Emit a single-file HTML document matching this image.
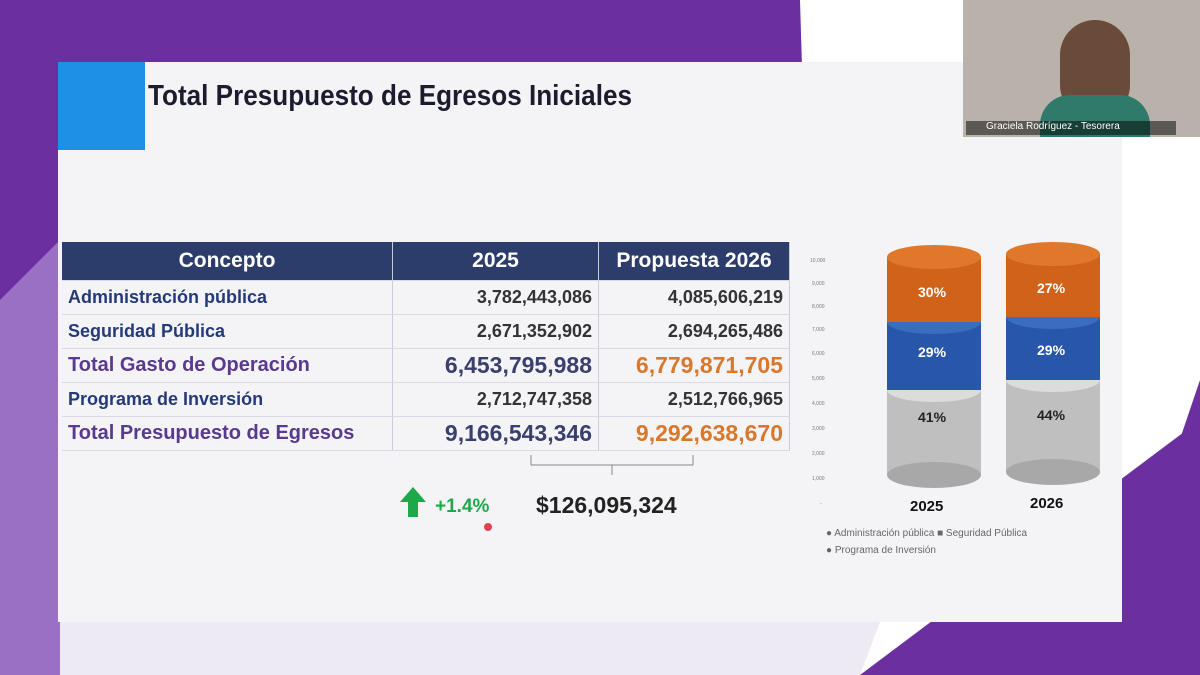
<!DOCTYPE html>
<html><head><meta charset="utf-8"><style>
body{margin:0;width:1200px;height:675px;overflow:hidden;background:#6b2fa0;font-family:"Liberation Sans",sans-serif;position:relative}
.abs{position:absolute}
table{border-collapse:collapse}
td{padding:0 6px;height:33px;border-bottom:1px solid #d8dbe6;border-right:1px solid #c8cbd8;font-weight:bold;color:#253a7a;font-size:18px}
td.n{text-align:right;color:#333;font-size:18px}
tr.big td{font-size:20px;color:#5a3a8e}
tr.big td.n{font-size:23px;color:#3a3f6e}
tr.big td.o{color:#d9782a}
</style></head><body>
<svg class="abs" style="left:0;top:0" width="1200" height="675">
<polygon points="800,0 1200,0 1200,380 1100,675 820,675" fill="#ffffff"/>
<polygon points="0,622 880,622 860,675 0,675" fill="#eeeaf4"/>
<polygon points="0,300 60,240 60,675 0,675" fill="#9a70c4"/>
<polygon points="860,675 1200,420 1200,675" fill="#6b2fa0"/>
</svg>
<div class="abs" style="left:58px;top:62px;width:1064px;height:560px;background:#f4f4f7"></div>
<div class="abs" style="left:58px;top:62px;width:87px;height:88px;background:#1e90e6"></div>
<div class="abs" style="left:148px;top:80px;font-size:29px;font-weight:bold;color:#1c1c2e;transform:scaleX(0.9);transform-origin:left">Total Presupuesto de Egresos Iniciales</div>
<table class="abs" style="left:62px;top:242px;width:728px">
<tr style="background:#2d3d6b"><td style="width:318px;height:38px;color:#fff;text-align:center;font-size:21px">Concepto</td><td style="width:193px;color:#fff;text-align:center;font-size:21px">2025</td><td style="color:#fff;text-align:center;font-size:21px">Propuesta 2026</td></tr>
<tr><td>Administración pública</td><td class="n">3,782,443,086</td><td class="n">4,085,606,219</td></tr>
<tr><td>Seguridad Pública</td><td class="n">2,671,352,902</td><td class="n">2,694,265,486</td></tr>
<tr class="big"><td>Total Gasto de Operación</td><td class="n">6,453,795,988</td><td class="n o">6,779,871,705</td></tr>
<tr><td>Programa de Inversión</td><td class="n">2,712,747,358</td><td class="n">2,512,766,965</td></tr>
<tr class="big"><td>Total Presupuesto de Egresos</td><td class="n">9,166,543,346</td><td class="n o">9,292,638,670</td></tr>
</table>
<svg class="abs" style="left:0;top:0" width="1200" height="675">
<path d="M531 455 v10 h162 v-10 M612 465 v10" stroke="#888" fill="none"/>
<polygon points="413,487 400,502 408,502 408,517 418,517 418,502 426,502" fill="#1fa84a"/>
<text x="435" y="512" font-size="19" font-weight="bold" fill="#1fa84a" font-family="Liberation Sans">+1.4%</text>
<circle cx="488" cy="527" r="4" fill="#e04050"/>
<text x="536" y="513" font-size="23" font-weight="bold" fill="#222" font-family="Liberation Sans">$126,095,324</text>
<g font-size="5" fill="#777" font-family="Liberation Sans">
<text x="810" y="262">10,000</text><text x="812" y="285">9,000</text><text x="812" y="308">8,000</text><text x="812" y="331">7,000</text><text x="812" y="355">6,000</text><text x="812" y="380">5,000</text><text x="812" y="405">4,000</text><text x="812" y="430">3,000</text><text x="812" y="455">2,000</text><text x="812" y="480">1,000</text><text x="820" y="505">-</text></g>
<g font-family="Liberation Sans" font-weight="bold" font-size="14">
<rect x="887" y="390" width="94" height="85" fill="#bfbfbf"/><ellipse cx="934" cy="475" rx="47" ry="13" fill="#a8a8a8"/><ellipse cx="934" cy="390" rx="47" ry="12" fill="#dcdcdc"/>
<rect x="887" y="322" width="94" height="68" fill="#2856a8"/><ellipse cx="934" cy="322" rx="47" ry="12" fill="#3a6cc0"/>
<rect x="887" y="257" width="94" height="65" fill="#d0621a"/><ellipse cx="934" cy="257" rx="47" ry="12" fill="#e0782c"/>
<text x="918" y="422" fill="#222">41%</text><text x="918" y="357" fill="#fff">29%</text><text x="918" y="297" fill="#fff">30%</text>
<rect x="1006" y="380" width="94" height="92" fill="#bfbfbf"/><ellipse cx="1053" cy="472" rx="47" ry="13" fill="#a8a8a8"/><ellipse cx="1053" cy="380" rx="47" ry="12" fill="#dcdcdc"/>
<rect x="1006" y="317" width="94" height="63" fill="#2856a8"/><ellipse cx="1053" cy="317" rx="47" ry="12" fill="#3a6cc0"/>
<rect x="1006" y="254" width="94" height="63" fill="#d0621a"/><ellipse cx="1053" cy="254" rx="47" ry="12" fill="#e0782c"/>
<text x="1037" y="420" fill="#222">44%</text><text x="1037" y="355" fill="#fff">29%</text><text x="1037" y="293" fill="#fff">27%</text>
<text x="910" y="511" fill="#111" font-size="15">2025</text><text x="1030" y="508" fill="#111" font-size="15">2026</text>
</g>
<g font-size="10" fill="#666" font-family="Liberation Sans">
<text x="826" y="536">● Administración pública ■ Seguridad Pública</text>
<text x="826" y="553">● Programa de Inversión</text></g>
</svg>
<div class="abs" style="left:963px;top:0;width:237px;height:137px;background:#b8b2aa"></div>
<div class="abs" style="left:1060px;top:20px;width:70px;height:100px;border-radius:40px;background:#6a4a38"></div>
<div class="abs" style="left:1040px;top:95px;width:110px;height:42px;background:#2f7a6a;border-radius:30px 30px 0 0"></div>
<div class="abs" style="left:966px;top:121px;width:190px;height:14px;background:rgba(0,0,0,.5);color:#fff;font-size:10px;padding-left:20px">Graciela Rodríguez - Tesorera</div>
</body></html>
